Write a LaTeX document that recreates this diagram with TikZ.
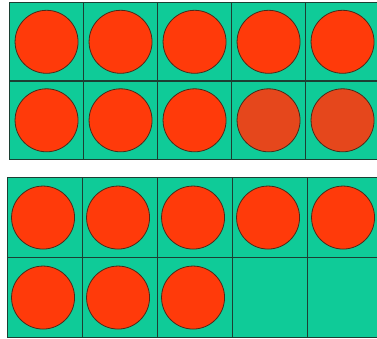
\documentclass[tikz,border=0pt]{standalone}
\usetikzlibrary{positioning}
\definecolor{frame}{HTML}{0FCB98}
\definecolor{frameline}{HTML}{1C3F33}
\definecolor{counter}{HTML}{FF3A0A}
\definecolor{counterdim}{HTML}{E5471C}
\definecolor{counterline}{HTML}{4A2A1A}

\begin{document}
\begin{tikzpicture}[
  x=1pt, y=-1pt,
  cell/.style={draw=frameline, fill=frame, line width=1.1pt, inner sep=0pt},
  topcell/.style={cell, minimum width=74pt, minimum height=78.5pt},
  botcell/.style={cell, minimum width=75pt, minimum height=80pt},
  dot/.style={circle, draw=counterline, fill=counter, line width=0.8pt, minimum size=63pt, inner sep=0pt},
  dimdot/.style={dot, fill=counterdim},
]
% Image grid in pixels: top frame from (9,2), bottom frame from (7,177).
\useasboundingbox[fill=white] (0,0) rectangle (377,339);
\def\xtop{9}
\def\ytop{2}
\def\xbot{7}
\def\ybot{177}

% --- Top ten-frame: ten counters ------------------------------------------
\foreach \r in {0,1} {
  \foreach \c in {0,...,4} {
    \node[topcell, anchor=north west] (t\r\c) at (\xtop+74*\c, \ytop+78.5*\r) {};
  }
}
\foreach \c in {0,...,4} \node[dot] (tc0\c) at (t0\c.center) {};
\foreach \c in {0,1,2} \node[dot] (tc1\c) at (t1\c.center) {};
\node[dimdot] (tc13) at (t13.center) {};
\node[dimdot] (tc14) at (t14.center) {};

% --- Bottom ten-frame: eight counters -------------------------------------
\foreach \r in {0,1} {
  \foreach \c in {0,...,4} {
    \node[botcell, anchor=north west] (b\r\c) at (\xbot+75*\c, \ybot+80*\r) {};
  }
}
\foreach \c in {0,...,4} \node[dot, xshift=-2pt] (bc0\c) at (b0\c.center) {};
\foreach \c in {0,1,2} \node[dot, xshift=-2pt] (bc1\c) at (b1\c.center) {};

\end{tikzpicture}
\end{document}
